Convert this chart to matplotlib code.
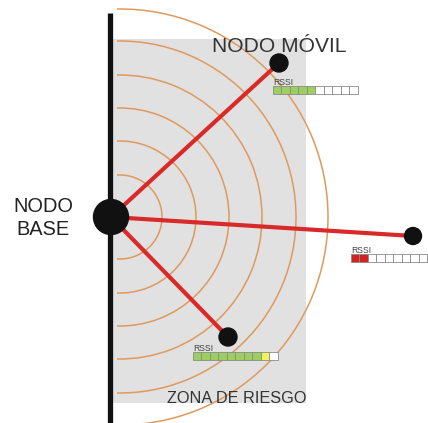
import numpy as np
import matplotlib
matplotlib.use("Agg")
import matplotlib.pyplot as plt
from matplotlib.patches import Rectangle, Circle, Arc

plt.rcParams['font.family'] = ['Liberation Sans', 'DejaVu Sans']

# ---- data (pixel-space diagram) ----
base_xy = (111, 217)
node_names = ["top", "right", "bottom"]
node_x = [279, 413, 228]
node_y = [63, 236, 337]
node_r = [9, 8.5, 9]
rssi_levels = [5, 2, 9]          # filled cells out of 10
rssi_bar_x = [273, 351, 193]
rssi_bar_y = [86, 254, 352]
rssi_fill = ["#9ccf5f", "#d42222", "#9ccf5f"]
arc_radii = [42, 76, 109, 142, 176, 208]
arc_center = (120, 217)

W, H = 428, 423
fig = plt.figure(figsize=(W / 100, H / 100), dpi=100)
ax = fig.add_axes([0, 0, 1, 1])
ax.set_xlim(0, W)
ax.set_ylim(H, 0)
ax.axis('off')

# risk zone
ax.add_patch(Rectangle((113, 39), 306 - 113, 403 - 39, facecolor='#e1e1e1',
                       edgecolor='none', zorder=1))

# arcs
for R in arc_radii:
    th = np.degrees(np.arccos((117 - arc_center[0]) / R))
    ax.add_patch(Arc(arc_center, 2 * R, 2 * R, theta1=-th, theta2=th,
                     color='#de9a5c', lw=1.1, zorder=2))

# wall
ax.plot([110, 110], [13, 423], color='#111111', lw=3.8, solid_capstyle='butt', zorder=3)

# links
for x, y in zip(node_x, node_y):
    ax.plot([base_xy[0], x], [base_xy[1], y], color='#d92a2a', lw=3.0,
            solid_capstyle='butt', zorder=4)

# nodes
ax.add_patch(Circle(base_xy, 17.5, color='#111111', zorder=5))
for x, y, r in zip(node_x, node_y, node_r):
    ax.add_patch(Circle((x, y), r, color='#111111', zorder=5))

# RSSI bars
cw, ch = 8.5, 8.5
for bx, by, lvl, fc, name in zip(rssi_bar_x, rssi_bar_y, rssi_levels, rssi_fill, node_names):
    for i in range(10):
        if i < lvl:
            color = fc
            if name == "bottom" and i == lvl - 1:
                color = '#f2f25a'
        else:
            color = 'white'
        ax.add_patch(Rectangle((bx + i * cw, by), cw, ch, facecolor=color,
                               edgecolor='#8a8a8a', lw=0.6, zorder=6))
    ax.text(bx, by - 1.2, "RSSI", fontsize=6.2, color='#444444',
            ha='left', va='baseline', zorder=7)

# labels
ax.text(279.5, 52, "NODO MÓVIL", fontsize=15.1, color='#333333',
        ha='center', va='baseline', zorder=7)
ax.text(43, 212, "NODO", fontsize=14.4, color='#222222', ha='center', va='baseline', zorder=7)
ax.text(43, 235, "BASE", fontsize=14.4, color='#222222', ha='center', va='baseline', zorder=7)
ax.text(237, 403, "ZONA DE RIESGO", fontsize=11.7, color='#333333',
        ha='center', va='baseline', zorder=7)

fig.savefig("out.png", dpi=100)
